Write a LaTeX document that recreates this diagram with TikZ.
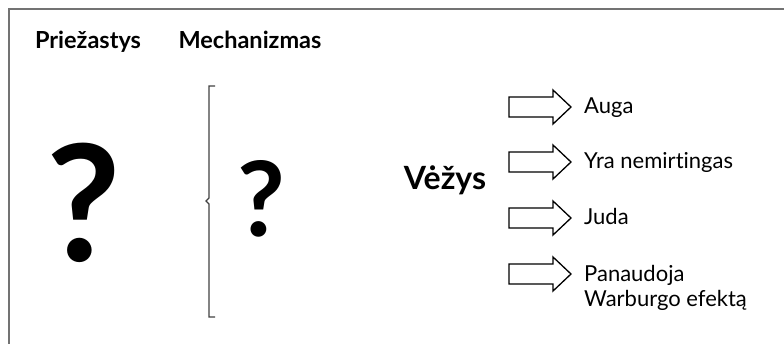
\documentclass[tikz,border=0pt]{standalone}
\usepackage{fontspec}
\setmainfont{Lato}[Ligatures={NoCommon}]
\begin{document}
\begin{tikzpicture}[x=1pt,y=-1pt,
  hdr/.style={font=\fontsize{23.5}{26}\selectfont\bfseries, inner sep=0pt, anchor=base},
  lbl/.style={font=\fontsize{22}{25}\selectfont, inner sep=0pt, anchor=base west, align=left},
  frm/.style={draw=black!55, line width=1.5pt},
  brk/.style={draw=black!75, line width=1.3pt},
  blk/.style={draw=black, line width=1.3pt, line join=miter}]
\useasboundingbox (0,0) rectangle (784,343);
\draw[frm] (9,350) -- (9,9) -- (790,9);
\node[hdr] (cause) at (88,48) {Priežastys};
\node[hdr] (mech) at (250,48) {Mechanizmas};
\node[inner sep=0pt, font=\fontsize{162}{162}\selectfont\bfseries] (q1) at (84,203) {?};
\node[inner sep=0pt, font=\fontsize{104}{104}\selectfont\bfseries] (q2) at (261,199) {?};
\draw[brk] (215,86) -- (209,86) -- (209,198) -- (206,201) -- (209,204) -- (209,317) -- (215,317);
\node[inner sep=0pt, anchor=base, font=\fontsize{32}{34}\selectfont\bfseries] (cancer) at (445,189) {Vėžys};
\foreach \yy/\nm in {107/a1,162/a2,218/a3,274/a4}{
  \draw[blk] (509,\yy-10) -- (553,\yy-10) -- (553,\yy-17) -- (571,\yy) -- (553,\yy+17) -- (553,\yy+10) -- (509,\yy+10) -- cycle;
  \coordinate (\nm) at (584,\yy+6);
}
\node[lbl] (t1) at (a1) {Auga};
\node[lbl] (t2) at (a2) {Yra nemirtingas};
\node[lbl] (t3) at (a3) {Juda};
\node[lbl] (t4) at (584,306) {Panaudoja\\Warburgo efektą};
\end{tikzpicture}
\end{document}
